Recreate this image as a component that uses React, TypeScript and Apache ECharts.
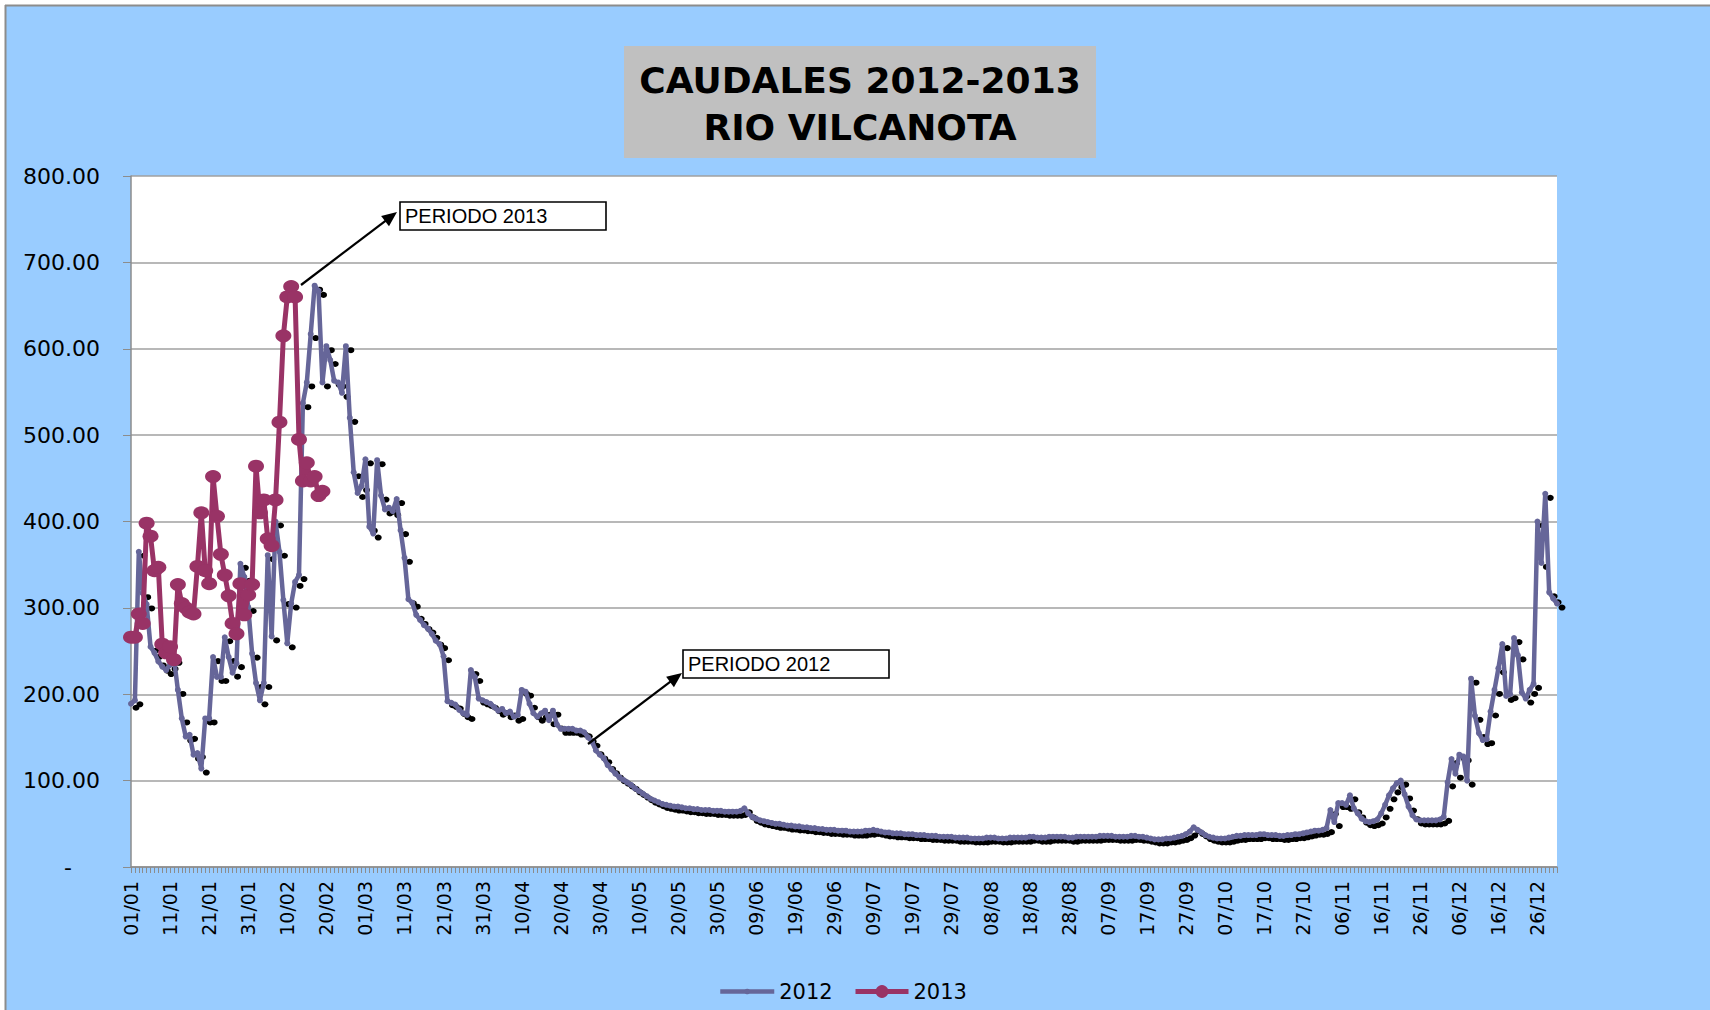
import React, { useEffect, useRef } from 'react';
import * as echarts from 'echarts';

// ---- categories: every day of 2012 (leap year) as dd/mm ----
const MONTH_DAYS = [31, 29, 31, 30, 31, 30, 31, 31, 30, 31, 30, 31];
const days: string[] = [];
MONTH_DAYS.forEach((n, m) => {
  for (let d = 1; d <= n; d++) {
    days.push(`${String(d).padStart(2, '0')}/${String(m + 1).padStart(2, '0')}`);
  }
});

// ---- 2012 daily discharge (m3/s), by month ----
const q2012Ene = [189, 193, 365, 317, 304, 255, 248, 238, 232, 228, 234, 241, 205, 172, 151, 153, 130, 132, 114, 172, 172, 243, 220, 220, 266, 243, 225, 236, 351, 336, 301];
const q2012Feb = [247, 213, 193, 213, 361, 267, 400, 365, 309, 259, 305, 330, 338, 537, 561, 617, 673, 667, 561, 603, 587, 563, 561, 549, 603, 520, 457, 433, 441];
const q2012Mar = [472, 394, 386, 471, 430, 414, 416, 412, 426, 390, 358, 310, 306, 292, 286, 280, 276, 270, 262, 258, 244, 192, 190, 188, 182, 178, 176, 228, 220, 195, 193];
const q2012Abr = [191, 189, 185, 181, 183, 178, 180, 174, 176, 205, 203, 189, 178, 174, 178, 181, 170, 181, 165, 160, 160, 160, 160, 158, 158, 156, 150, 145, 135, 130];
const q2012May = [126, 118, 113, 108, 104, 101, 98, 95, 91, 88, 85, 82, 79, 77, 75, 73, 72, 71, 70, 70, 69, 68, 68, 67, 67, 66, 66, 66, 65, 65, 65];
const q2012Jun = [64, 64, 64, 64, 65, 68, 62, 58, 56, 54, 53, 52, 51, 50, 50, 49, 48, 48, 47, 47, 46, 46, 45, 45, 44, 44, 43, 43, 43, 42];
const q2012Jul = [42, 42, 41, 41, 41, 41, 42, 42, 43, 42, 41, 40, 40, 39, 39, 39, 38, 38, 38, 37, 37, 37, 36, 36, 36, 35, 35, 35, 35, 34, 34];
const q2012Ago = [34, 34, 33, 33, 33, 33, 34, 34, 34, 33, 33, 33, 34, 34, 34, 34, 34, 35, 35, 34, 34, 34, 35, 35, 35, 35, 35, 34, 34, 35, 35];
const q2012Sep = [35, 35, 35, 35, 36, 36, 36, 36, 35, 35, 35, 35, 36, 36, 35, 35, 34, 33, 32, 32, 32, 33, 33, 34, 35, 36, 38, 41, 46, 43];
const q2012Oct = [40, 37, 35, 34, 33, 33, 33, 34, 35, 36, 36, 37, 37, 37, 37, 38, 38, 37, 37, 37, 36, 36, 37, 37, 38, 38, 39, 40, 41, 42, 42];
const q2012Nov = [43, 45, 66, 52, 74, 74, 72, 83, 68, 62, 56, 53, 52, 53, 55, 62, 72, 83, 91, 97, 100, 84, 70, 60, 55, 54, 54, 54, 54, 54];
const q2012Dic = [55, 58, 98, 125, 108, 130, 128, 100, 218, 175, 155, 147, 148, 180, 205, 230, 258, 198, 200, 265, 245, 202, 195, 205, 212, 400, 352, 432, 318, 311, 305];
const caudal2012 = [
  ...q2012Ene, ...q2012Feb, ...q2012Mar, ...q2012Abr, ...q2012May, ...q2012Jun,
  ...q2012Jul, ...q2012Ago, ...q2012Sep, ...q2012Oct, ...q2012Nov, ...q2012Dic,
];

// ---- 2013 daily discharge (01/01 – 19/02) ----
const caudal2013 = [
  266, 266, 293, 282, 398, 383, 343, 347, 258, 248, 255, 240, 327, 305, 300, 295, 293, 348, 410, 343,
  328, 452, 406, 362, 338, 314, 282, 270, 328, 292, 315, 327, 464, 410, 425, 380, 372, 425, 515, 615,
  660, 672, 660, 495, 447, 468, 447, 452, 430, 435,
];

const seriesNames = ['2012', '2013'];
const titleLines = ['CAUDALES 2012-2013', 'RIO VILCANOTA'];
const notes = ['PERIODO 2013', 'PERIODO 2012'];

function arrow(sx: number, sy: number, tx: number, ty: number) {
  const len = 15;
  const half = 6.5;
  const dx = tx - sx;
  const dy = ty - sy;
  const L = Math.hypot(dx, dy);
  const ux = dx / L;
  const uy = dy / L;
  const nx = -uy;
  const ny = ux;
  const bx = tx - ux * len;
  const by = ty - uy * len;
  return [
    { type: 'line', z: 100, shape: { x1: sx, y1: sy, x2: bx + ux * 3, y2: by + uy * 3 }, style: { stroke: '#000', lineWidth: 2.2 } },
    {
      type: 'polygon', z: 100,
      shape: { points: [[tx, ty], [bx + nx * half, by + ny * half], [bx - nx * half, by - ny * half]] },
      style: { fill: '#000' },
    },
  ];
}

function noteBox(x: number, y: number, w: number, h: number, text: string) {
  return [
    { type: 'rect', z: 100, shape: { x, y, width: w, height: h }, style: { fill: '#fff', stroke: '#000', lineWidth: 1.6 } },
    {
      type: 'text', z: 101, x: x + 5, y: y + h / 2,
      style: { text, fill: '#000', font: '20px "Liberation Sans", Arial, sans-serif', textVerticalAlign: 'middle', verticalAlign: 'middle' },
    },
  ];
}

export default function App() {
  const ref = useRef<HTMLDivElement>(null);

  useEffect(() => {
    if (!ref.current) return;
    const chart = echarts.init(ref.current, undefined, { renderer: 'svg' });

    const legendText = { fontFamily: 'DejaVu Sans', fontSize: 21, color: '#000' };

    const option: any = {
      animation: false,
      backgroundColor: '#99CCFF',
      grid: {
        left: 131, right: 153, top: 176, bottom: 143,
        show: true, backgroundColor: '#ffffff', borderWidth: 0,
      },
      xAxis: {
        type: 'category',
        data: days,
        boundaryGap: false,
        axisLine: { lineStyle: { color: '#8c8c8c', width: 1.5 } },
        axisTick: { show: true, interval: 0, length: 6, lineStyle: { color: '#8c8c8c' } },
        axisLabel: {
          interval: 9, rotate: 90, margin: 14,
          fontFamily: 'DejaVu Sans', fontSize: 19, color: '#000',
        },
        splitLine: { show: false },
      },
      yAxis: {
        type: 'value', min: 0, max: 800, interval: 100,
        axisLine: { show: true, lineStyle: { color: '#8c8c8c', width: 1.5 } },
        axisTick: { show: true, length: 8, lineStyle: { color: '#8c8c8c' } },
        axisLabel: {
          margin: 31, fontFamily: 'DejaVu Sans', fontSize: 22, color: '#000',
          formatter: (v: number) => (v === 0 ? '{z|-}' : v.toFixed(2)),
          rich: { z: { padding: [0, 28, 0, 0], fontSize: 22, fontFamily: 'DejaVu Sans', color: '#000' } },
        },
        splitLine: { lineStyle: { color: '#a0a0a0', width: 1.5 } },
      },
      legend: [
        {
          data: [seriesNames[0]], left: 713, top: 976, itemWidth: 54, itemHeight: 7, itemGap: 8,
          lineStyle: { width: 4.5 },
          textStyle: legendText,
        },
        {
          data: [seriesNames[1]], left: 848, top: 976, itemWidth: 53, itemHeight: 16, itemGap: 8,
          lineStyle: { width: 5 },
          textStyle: legendText,
        },
      ],
      series: [
        {
          name: 'sombra',
          type: 'line',
          data: caudal2012,
          z: 1,
          silent: true,
          symbol: 'circle',
          symbolSize: [7, 6],
          symbolOffset: [5, 4],
          showSymbol: true,
          showAllSymbol: true,
          itemStyle: { color: '#000' },
          lineStyle: { width: 0, opacity: 0 },
        },
        {
          name: seriesNames[0],
          type: 'line',
          data: caudal2012,
          z: 2,
          symbol: 'circle',
          symbolSize: 6,
          showSymbol: true,
          showAllSymbol: true,
          color: '#666699',
          itemStyle: { color: '#666699' },
          lineStyle: { color: '#666699', width: 4.5 },
        },
        {
          name: seriesNames[1],
          type: 'line',
          data: caudal2013,
          z: 3,
          symbol: 'circle',
          symbolSize: [16, 13],
          showSymbol: true,
          showAllSymbol: true,
          color: '#993366',
          itemStyle: { color: '#993366' },
          lineStyle: { color: '#993366', width: 5 },
        },
      ],
      graphic: [
        { type: 'rect', z: 0, shape: { x: 0, y: 0, width: 1710, height: 5 }, style: { fill: '#ffffff' } },
        { type: 'rect', z: 0, shape: { x: 0, y: 0, width: 5, height: 1010 }, style: { fill: '#ffffff' } },
        { type: 'line', z: 0, shape: { x1: 5, y1: 5.5, x2: 1710, y2: 5.5 }, style: { stroke: '#8c8c8c', lineWidth: 2 } },
        { type: 'line', z: 0, shape: { x1: 5.5, y1: 5, x2: 5.5, y2: 1010 }, style: { stroke: '#8c8c8c', lineWidth: 2 } },
        { type: 'rect', z: 0, shape: { x: 624, y: 46, width: 472, height: 112 }, style: { fill: '#C0C0C0' } },
        {
          type: 'text', z: 1, x: 860, y: 80,
          style: { text: titleLines[0], fill: '#000', font: 'bold 36px "DejaVu Sans", sans-serif', textAlign: 'center', align: 'center', textVerticalAlign: 'middle', verticalAlign: 'middle' },
        },
        {
          type: 'text', z: 1, x: 860, y: 127,
          style: { text: titleLines[1], fill: '#000', font: 'bold 36px "DejaVu Sans", sans-serif', textAlign: 'center', align: 'center', textVerticalAlign: 'middle', verticalAlign: 'middle' },
        },
        ...noteBox(400, 202, 206, 28, notes[0]),
        ...noteBox(683, 650, 206, 28, notes[1]),
        ...arrow(301, 285, 397, 212),
        ...arrow(588, 744, 682, 673),
      ],
    };

    chart.setOption(option);
    return () => chart.dispose();
  }, []);

  return <div ref={ref} style={{ position: 'absolute', left: 0, top: 0, width: 1710, height: 1010 }} />;
}
